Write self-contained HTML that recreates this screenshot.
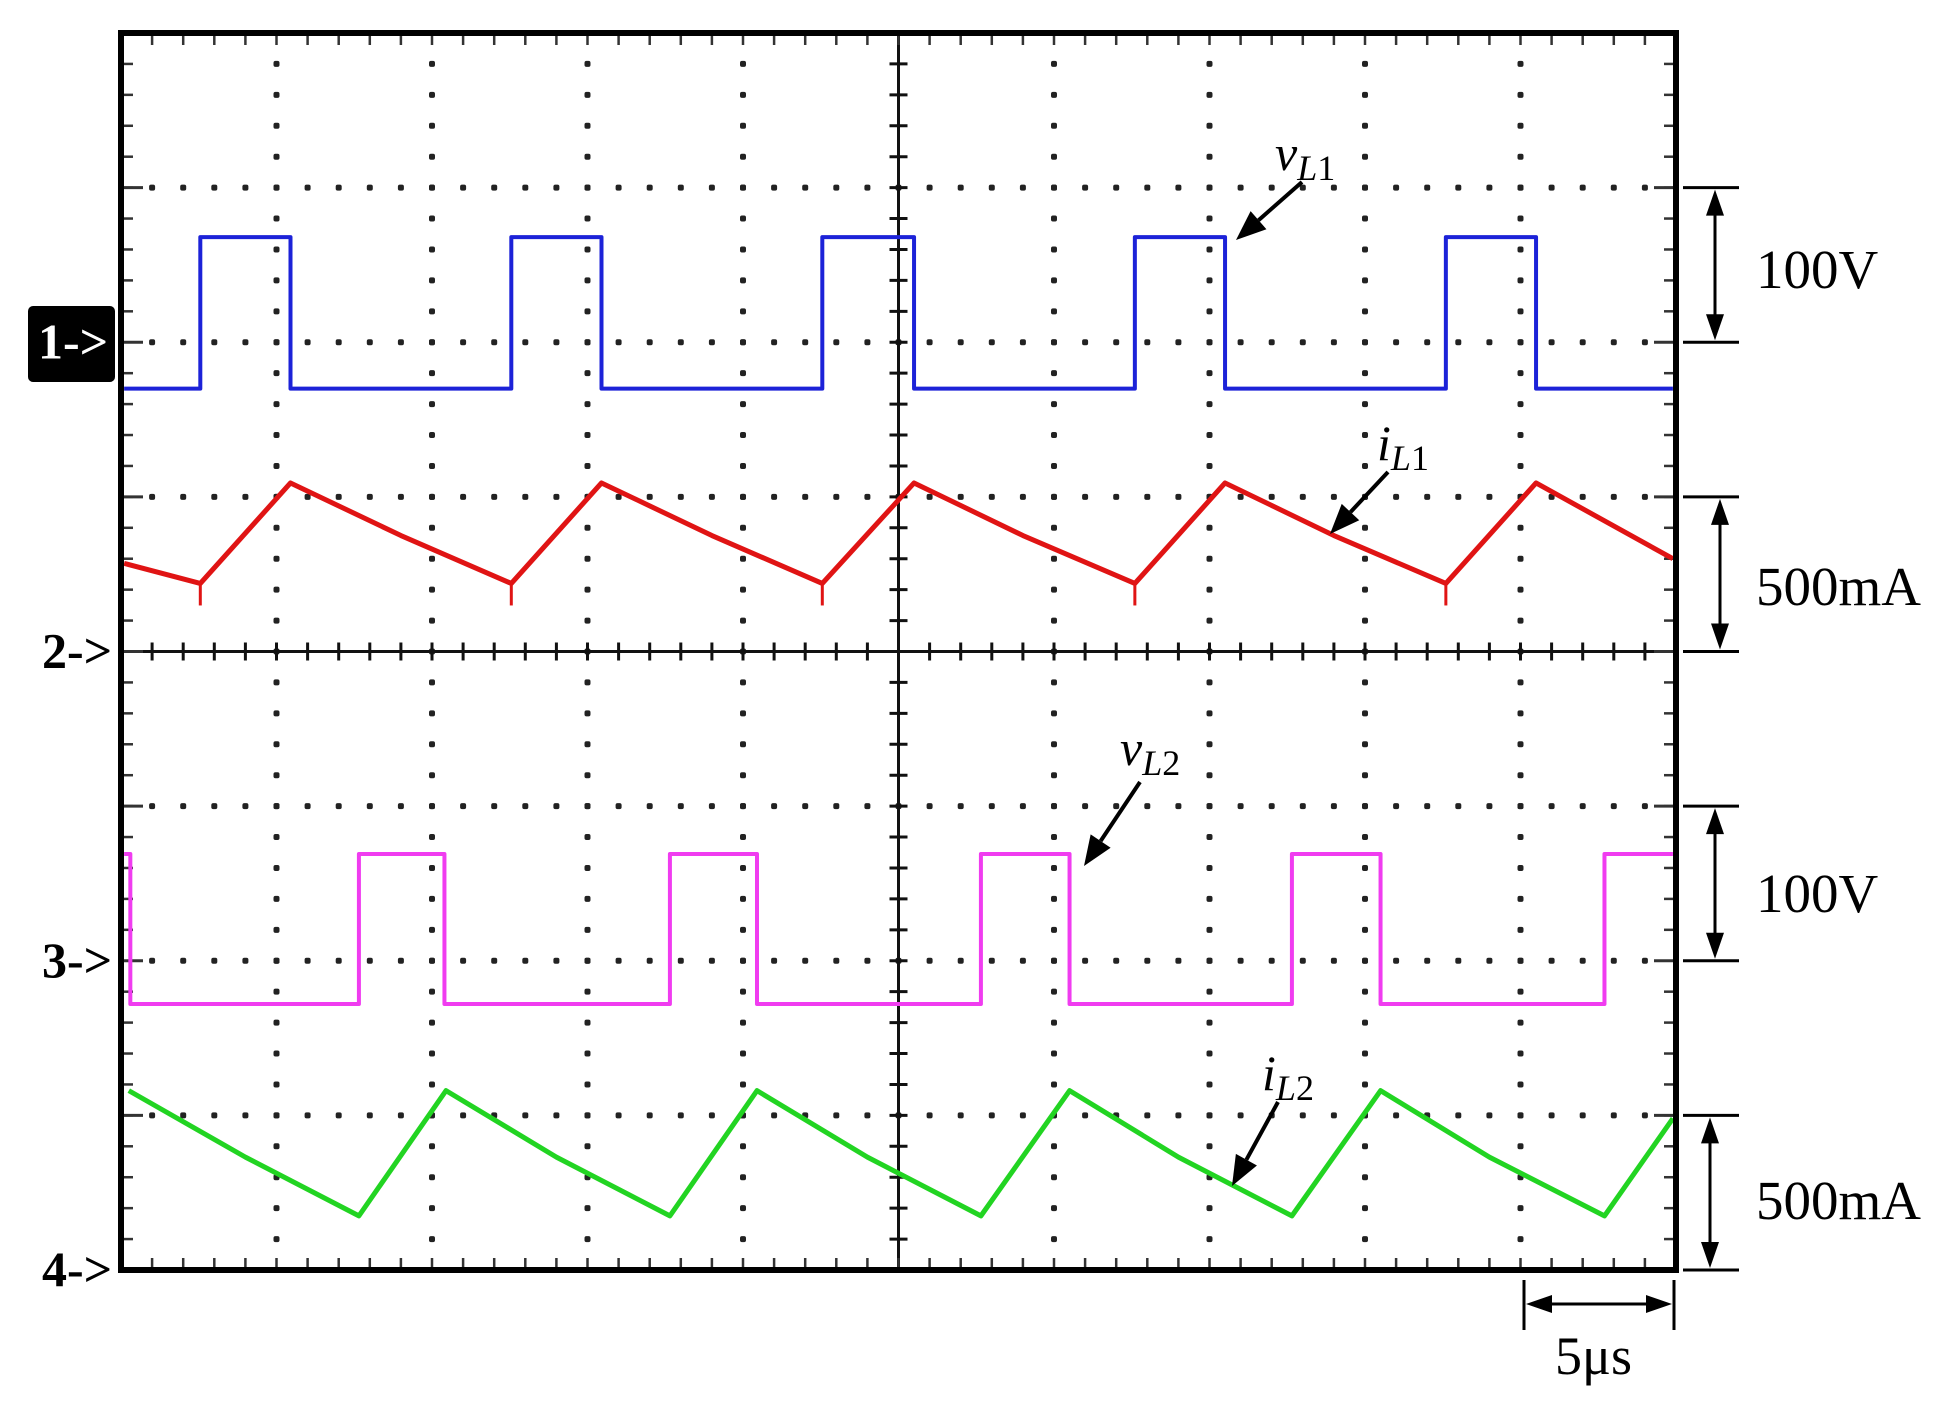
<!DOCTYPE html>
<html><head><meta charset="utf-8"><style>
html,body{margin:0;padding:0;background:#fff;}
svg{display:block;}
text{font-family:"Liberation Serif",serif;}
</style></head><body>
<svg id="scope" width="1952" height="1412" viewBox="0 0 1952 1412" xmlns="http://www.w3.org/2000/svg">
<g id="grid"></g>
<g id="traces"></g>
<g id="frame"></g>
<g id="annot"></g>
</svg>
<script>
// time in divisions (0..10), level in divisions from centre (+ up)
const v1Rise = [0.51, 2.51, 4.51, 6.52, 8.52];
const v1Fall = [1.09, 3.09, 5.10, 7.10, 9.10];
const v1Levels = [1.70, 2.68]; // low, high
const v2Rise = [1.53, 3.53, 5.53, 7.53, 9.54];
const v2Fall = [0.06, 2.08, 4.09, 6.10, 8.10];
const v2Levels = [-2.28, -1.31];
const i1Times = [0.02, 0.51, 1.09, 1.8, 2.51, 3.09, 3.8, 4.51, 5.10, 5.8, 6.52, 7.10, 7.8, 8.52, 9.10, 9.98];
const i1Values = [0.57, 0.44, 1.09, 0.75, 0.44, 1.09, 0.75, 0.44, 1.09, 0.75, 0.44, 1.09, 0.75, 0.44, 1.09, 0.60];
const i2Times = [0.05, 0.8, 1.53, 2.09, 2.8, 3.53, 4.09, 4.8, 5.53, 6.10, 6.8, 7.53, 8.10, 8.8, 9.54, 9.98];
const i2Values = [-2.84, -3.27, -3.65, -2.84, -3.27, -3.65, -2.84, -3.27, -3.65, -2.84, -3.27, -3.65, -2.84, -3.27, -3.65, -3.02];

const NS = "http://www.w3.org/2000/svg";
const L = 121, R = 1676, T = 33, B = 1270;
const DX = (R - L) / 10, DY = (B - T) / 8, CY = (T + B) / 2, CX = (L + R) / 2;
const xs = t => L + t * DX;
const ys = v => CY - v * DY;
function mk(tag, attrs, parent) {
  const e = document.createElementNS(NS, tag);
  for (const k in attrs) e.setAttribute(k, attrs[k]);
  parent.appendChild(e);
  return e;
}
const grid = document.getElementById('grid');
const traces = document.getElementById('traces');
const frame = document.getElementById('frame');
const annot = document.getElementById('annot');

for (let i = 1; i < 10; i++) {
  if (i === 5) continue;
  for (let j = 1; j < 40; j++) {
    mk('rect', {x: xs(i) - 3, y: T + j * DY / 5 - 3, width: 6, height: 6, rx: 2, fill: '#222'}, grid);
  }
}
for (let j = 1; j < 8; j++) {
  if (j === 4) continue;
  for (let i = 1; i < 50; i++) {
    mk('rect', {x: L + i * DX / 5 - 3, y: T + j * DY - 3, width: 6, height: 6, rx: 2, fill: '#222'}, grid);
  }
}
mk('line', {x1: L, y1: CY, x2: R, y2: CY, stroke: '#111', 'stroke-width': 3}, grid);
mk('line', {x1: CX, y1: T, x2: CX, y2: B, stroke: '#111', 'stroke-width': 3}, grid);
for (let i = 1; i < 50; i++) {
  const x = L + i * DX / 5;
  mk('line', {x1: x, y1: CY - 9, x2: x, y2: CY + 9, stroke: '#111', 'stroke-width': 3}, grid);
  mk('line', {x1: x, y1: T, x2: x, y2: T + 12, stroke: '#333', 'stroke-width': 2.5}, grid);
  mk('line', {x1: x, y1: B - 12, x2: x, y2: B, stroke: '#333', 'stroke-width': 2.5}, grid);
}
for (let j = 1; j < 40; j++) {
  const y = T + j * DY / 5;
  mk('line', {x1: CX - 9, y1: y, x2: CX + 9, y2: y, stroke: '#111', 'stroke-width': 3}, grid);
  mk('line', {x1: L, y1: y, x2: L + 12, y2: y, stroke: '#333', 'stroke-width': 2.5}, grid);
  mk('line', {x1: R - 12, y1: y, x2: R, y2: y, stroke: '#333', 'stroke-width': 2.5}, grid);
}
for (let j = 1; j < 8; j++) {
  const y = T + j * DY;
  mk('line', {x1: L, y1: y, x2: L + 22, y2: y, stroke: '#333', 'stroke-width': 3}, grid);
  mk('line', {x1: R - 22, y1: y, x2: R, y2: y, stroke: '#333', 'stroke-width': 3}, grid);
}

function square(rise, fall, levels, color, name) {
  const ev = [];
  rise.forEach(t => ev.push([t, 1]));
  fall.forEach(t => ev.push([t, 0]));
  ev.sort((a, b) => a[0] - b[0]);
  let state = ev[0][1] === 1 ? 0 : 1;
  let d = `M${xs(0.02)},${ys(levels[state])}`;
  ev.forEach(([t, s]) => {
    d += ` L${xs(t)},${ys(levels[state])} L${xs(t)},${ys(levels[s])}`;
    state = s;
  });
  d += ` L${xs(9.98)},${ys(levels[state])}`;
  const p = mk('path', {d: d, fill: 'none', stroke: color, 'stroke-width': 4, 'stroke-linejoin': 'round'}, traces);
  
  
}
function ramp(times, values, color, name, spikes) {
  let d = '';
  times.forEach((t, i) => { d += (i ? ' L' : 'M') + xs(t) + ',' + ys(values[i]); });
  const p = mk('path', {d: d, fill: 'none', stroke: color, 'stroke-width': 5, 'stroke-linejoin': 'round'}, traces);
  
  
  if (spikes) {
    times.forEach((t, i) => {
      if (i > 0 && i < times.length - 1 && values[i] < values[i - 1] && values[i] < values[i + 1]) {
        mk('line', {x1: xs(t), y1: ys(values[i]), x2: xs(t), y2: ys(values[i]) + 22, stroke: color, 'stroke-width': 3}, traces);
      }
    });
  }
}
square(v1Rise, v1Fall, v1Levels, '#1c22d8', 'trace-vl1');
ramp(i1Times, i1Values, '#e01414', 'trace-il1', true);
square(v2Rise, v2Fall, v2Levels, '#f03cf0', 'trace-vl2');
ramp(i2Times, i2Values, '#22d422', 'trace-il2', false);

mk('rect', {x: L, y: T, width: R - L, height: B - T, fill: 'none', stroke: '#000', 'stroke-width': 6}, frame);

mk('rect', {x: 28, y: 306, width: 87, height: 76, rx: 5, fill: '#000'}, annot);
const mtxt = [['1->', ys(2), '#fff'], ['2->', CY, '#000'], ['3->', ys(-2), '#000'], ['4->', B, '#000']];
mtxt.forEach(([s, y, c], i) => {
  const t = mk('text', {x: i === 0 ? 38 : 42, y: y + 16, 'font-size': 50, 'font-weight': 'bold', fill: c}, annot);
  t.textContent = s;
  
  
});

function vbracket(y1, y2, x, label, ty, name) {
  mk('line', {x1: 1683, y1: y1, x2: 1739, y2: y1, stroke: '#000', 'stroke-width': 3}, annot);
  mk('line', {x1: 1683, y1: y2, x2: 1739, y2: y2, stroke: '#000', 'stroke-width': 3}, annot);
  mk('line', {x1: x, y1: y1 + 18, x2: x, y2: y2 - 18, stroke: '#000', 'stroke-width': 3}, annot);
  mk('path', {d: `M${x},${y1 + 2} l-9,26 l18,0 z M${x},${y2 - 2} l-9,-26 l18,0 z`, fill: '#000'}, annot);
  const t = mk('text', {x: 1756, y: ty, 'font-size': 55, fill: '#000'}, annot);
  t.textContent = label;
  
  
}
vbracket(ys(3), ys(2), 1715, '100V', 288, 'scale-label-vl1');
vbracket(ys(1), CY, 1720, '500mA', 605, 'scale-label-il1');
vbracket(ys(-1), ys(-2), 1715, '100V', 912, 'scale-label-vl2');
vbracket(ys(-3), B, 1710, '500mA', 1219, 'scale-label-il2');

mk('line', {x1: 1524, y1: 1280, x2: 1524, y2: 1330, stroke: '#000', 'stroke-width': 3}, annot);
mk('line', {x1: 1674, y1: 1280, x2: 1674, y2: 1330, stroke: '#000', 'stroke-width': 3}, annot);
mk('line', {x1: 1544, y1: 1304, x2: 1654, y2: 1304, stroke: '#000', 'stroke-width': 3}, annot);
mk('path', {d: 'M1526,1304 l26,-9 l0,18 z M1672,1304 l-26,-9 l0,18 z', fill: '#000'}, annot);
const ts = mk('text', {x: 1555, y: 1374, 'font-size': 54, fill: '#000'}, annot);
ts.textContent = '5μs';



function label(main, sub, x, y, ax1, ay1, ax2, ay2, name) {
  const t = mk('text', {x: x, y: y, 'font-size': 50, 'font-style': 'italic', fill: '#000'}, annot);
  
  
  const a = document.createElementNS(NS, 'tspan'); a.textContent = main; t.appendChild(a);
  const b = document.createElementNS(NS, 'tspan'); b.setAttribute('font-size', 36); b.setAttribute('dy', 10); b.textContent = 'L';
  t.appendChild(b);
  const c = document.createElementNS(NS, 'tspan'); c.setAttribute('font-size', 36); c.setAttribute('font-style', 'normal'); c.textContent = sub;
  t.appendChild(c);
  const ang = Math.atan2(ay2 - ay1, ax2 - ax1);
  const hx = ax2 - 30 * Math.cos(ang), hy = ay2 - 30 * Math.sin(ang);
  mk('line', {x1: ax1, y1: ay1, x2: hx, y2: hy, stroke: '#000', 'stroke-width': 4}, annot);
  const px = -Math.sin(ang) * 12, py = Math.cos(ang) * 12;
  mk('path', {d: `M${ax2},${ay2} L${hx + px},${hy + py} L${hx - px},${hy - py} z`, fill: '#000'}, annot);
}
label('v', '1', 1275, 170, 1302, 182, 1236, 240, 'label-vl1');
label('i', '1', 1377, 460, 1388, 472, 1330, 534, 'label-il1');
label('v', '2', 1120, 765, 1140, 782, 1084, 866, 'label-vl2');
label('i', '2', 1262, 1090, 1278, 1102, 1232, 1186, 'label-il2');
</script>
</body></html>
